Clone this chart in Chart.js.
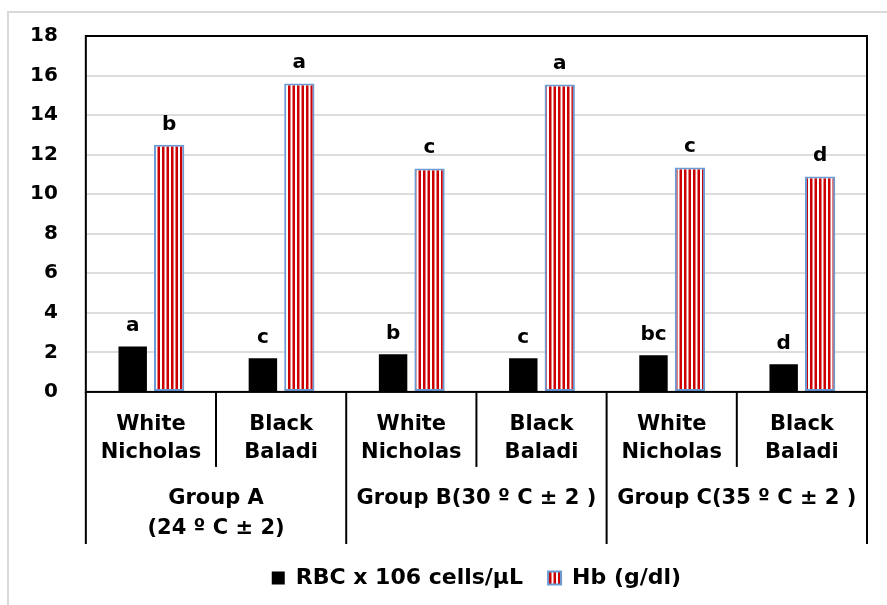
<!DOCTYPE html>
<html>
<head>
<meta charset="utf-8">
<script src="https://cdn.jsdelivr.net/npm/chart.js@4.4.1/dist/chart.umd.min.js"></script>
<style>
  html, body { margin: 0; padding: 0; background: #ffffff; }
  #wrap { width: 887px; height: 605px; position: relative; }
</style>
</head>
<body>
<div id="wrap"><canvas id="c"></canvas></div>
<script>
// ---- data ----
const categories = [['White', 'Nicholas'], ['Black', 'Baladi'], ['White', 'Nicholas'], ['Black', 'Baladi'], ['White', 'Nicholas'], ['Black', 'Baladi']];
const groups = [['Group A', '(24 º C ± 2)'], 'Group B(30 º C ± 2 )', 'Group C(35 º C ± 2 )'];
const seriesNames = ['RBC x 106 cells/µL', 'Hb (g/dl)'];
const rbcValues = [2.3, 1.7, 1.9, 1.7, 1.85, 1.4];
const hbValues = [12.5, 15.6, 11.3, 15.55, 11.35, 10.9];
const rbcLetters = ['a', 'c', 'b', 'c', 'bc', 'd'];
const hbLetters = ['b', 'a', 'c', 'a', 'c', 'd'];
const yMin = 0, yMax = 18, yStep = 2;

// ---- styles ----
const FONT = "'DejaVu Sans', 'Verdana', sans-serif";
const canvas = document.getElementById('c');
const ctx0 = canvas.getContext('2d');

function stripePattern() {
  const p = document.createElement('canvas');
  p.width = 9; p.height = 4;
  const g = p.getContext('2d');
  g.fillStyle = '#ffffff'; g.fillRect(0, 0, 9, 4);
  g.fillStyle = '#CC0000';
  g.fillRect(0, 0, 2.5, 4);
  g.fillRect(4.5, 0, 2.5, 4);
  return ctx0.createPattern(p, 'repeat');
}
const hbFill = stripePattern();
const letterSets = [rbcLetters, hbLetters];

const decorations = {
  id: 'decorations',
  beforeDraw(chart) {
    const ctx = chart.ctx;
    ctx.save();
    ctx.strokeStyle = '#D9D9D9';
    ctx.lineWidth = 2;
    ctx.beginPath();
    ctx.moveTo(8, chart.height);
    ctx.lineTo(8, 12);
    ctx.lineTo(chart.width, 12);
    ctx.stroke();
    ctx.restore();
  },
  afterDatasetsDraw(chart) {
    const ctx = chart.ctx;
    ctx.save();
    ctx.font = 'bold 20px ' + FONT;
    ctx.fillStyle = '#000';
    ctx.textAlign = 'center';
    ctx.textBaseline = 'alphabetic';
    letterSets.forEach((letters, d) => {
      const meta = chart.getDatasetMeta(d);
      meta.data.forEach((bar, i) => {
        ctx.fillText(letters[i], bar.x, bar.y - 15);
      });
    });
    ctx.restore();
  },
  afterDraw(chart) {
    const ctx = chart.ctx;
    const ca = chart.chartArea;
    const xs = chart.scales.x;
    const gs = chart.scales.x2;
    const n = categories.length;
    const perGroup = n / groups.length;
    ctx.save();
    ctx.strokeStyle = '#000';
    ctx.lineWidth = 2;
    ctx.strokeRect(ca.left, ca.top, ca.right - ca.left, ca.bottom - ca.top);
    const innerBottom = xs.bottom - xs.options.ticks.padding;
    const groupBottom = gs.bottom - gs.options.ticks.padding;
    for (let i = 0; i <= n; i++) {
      let x;
      if (i === 0) x = ca.left;
      else if (i === n) x = ca.right;
      else x = (xs.getPixelForValue(i - 1) + xs.getPixelForValue(i)) / 2;
      const bottom = (i % perGroup === 0) ? groupBottom : innerBottom;
      ctx.beginPath();
      ctx.moveTo(x, ca.bottom);
      ctx.lineTo(x, bottom);
      ctx.stroke();
    }
    ctx.restore();
  }
};

new Chart(canvas, {
  type: 'bar',
  data: {
    labels: categories,
    datasets: [
      {
        label: seriesNames[0],
        data: rbcValues,
        backgroundColor: '#000000',
        borderWidth: 0,
        categoryPercentage: 0.56,
        barPercentage: 0.78
      },
      {
        label: seriesNames[1],
        data: hbValues,
        backgroundColor: hbFill,
        borderColor: '#6A9BD4',
        borderWidth: 2,
        borderSkipped: false,
        categoryPercentage: 0.56,
        barPercentage: 0.83
      }
    ]
  },
  options: {
    responsive: true,
    maintainAspectRatio: false,
    devicePixelRatio: 1,
    animation: false,
    events: [],
    layout: { padding: { left: 2, right: 20, top: 36, bottom: 6 } },
    plugins: {
      tooltip: { enabled: false },
      legend: {
        position: 'bottom',
        fullSize: false,
        labels: {
          color: '#000',
          font: { family: FONT, size: 22, weight: 'bold' },
          boxWidth: 13,
          boxHeight: 13,
          padding: 25
        }
      }
    },
    scales: {
      y: {
        min: yMin,
        max: yMax,
        ticks: {
          stepSize: yStep,
          color: '#000',
          padding: 28,
          font: { family: FONT, size: 20, weight: 'bold', lineHeight: 0.8 }
        },
        grid: { color: '#DDDDDD', lineWidth: 2, drawTicks: false },
        border: { display: false }
      },
      x: {
        weight: 0,
        ticks: {
          color: '#000',
          padding: 19,
          autoSkip: false,
          maxRotation: 0,
          minRotation: 0,
          font: { family: FONT, size: 21, weight: 'bold', lineHeight: 1.334 }
        },
        grid: { display: false, drawTicks: false },
        border: { display: false }
      },
      x2: {
        type: 'category',
        position: 'bottom',
        weight: 1,
        labels: groups,
        offset: true,
        ticks: {
          color: '#000',
          padding: -2,
          autoSkip: false,
          maxRotation: 0,
          minRotation: 0,
          font: { family: FONT, size: 21, weight: 'bold', lineHeight: 1.43 }
        },
        grid: { display: false, drawTicks: false },
        border: { display: false }
      }
    }
  },
  plugins: [decorations]
});
</script>
</body>
</html>
